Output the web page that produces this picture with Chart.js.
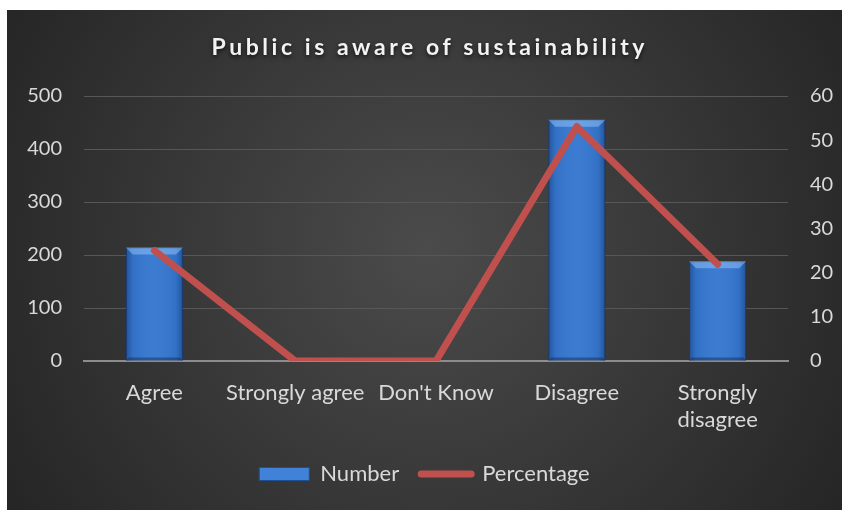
<!DOCTYPE html>
<html>
<head>
<meta charset="utf-8">
<script src="https://cdn.jsdelivr.net/npm/chart.js@4/dist/chart.umd.min.js"></script>
<style>
  html, body { margin: 0; padding: 0; background: #ffffff; }
  #wrap { position: absolute; left: 7px; top: 10px; width: 835px; height: 500px; }
</style>
</head>
<body>
<div id="wrap"><canvas id="chart" width="835" height="500"></canvas></div>
<script>
// survey answers
const categories = ["Agree", "Strongly agree", "Don't Know", "Disagree", ["Strongly", "disagree"]];
const numberValues = [214, 0, 0, 455, 188];
const percentValues = [25.0, 0, 0, 53.1, 21.9];
const leftTicks = [0, 100, 200, 300, 400, 500];
const rightTicks = [0, 10, 20, 30, 40, 50, 60];

const titleText = "Public is aware of sustainability";
const textColor = "#d9d9d9";
const fontFamily = "Lato, 'Open Sans', sans-serif";

// dark radial backdrop
const backdrop = {
  id: "backdrop",
  beforeDraw(chart) {
    const ctx = chart.ctx;
    const g = ctx.createRadialGradient(420, 240, 0, 420, 240, 560);
    g.addColorStop(0, "#4b4b4b");
    g.addColorStop(1, "#202020");
    ctx.save();
    ctx.fillStyle = g;
    ctx.fillRect(0, 0, chart.width, chart.height);
    ctx.restore();
  }
};

// spaced-out bold title with a soft shadow
const spacedTitle = {
  id: "spacedTitle",
  afterDraw(chart) {
    const ctx = chart.ctx;
    ctx.save();
    ctx.font = "bold 23px " + fontFamily;
    const plain = ctx.measureText(titleText).width;
    const spacing = Math.max(0, (433 - plain) / (titleText.length - 1));
    ctx.letterSpacing = spacing + "px";
    ctx.fillStyle = "#f2f2f2";
    ctx.textAlign = "center";
    ctx.textBaseline = "middle";
    ctx.shadowColor = "rgba(0,0,0,0.7)";
    ctx.shadowBlur = 4;
    ctx.shadowOffsetY = 2;
    ctx.fillText(titleText, 421 + spacing / 2, 38);
    ctx.restore();
  }
};

// bevel highlights on top of each bar
const barBevel = {
  id: "barBevel",
  afterDatasetDraw(chart, args) {
    if (args.index !== 0) return;
    const ctx = chart.ctx;
    const b = 7;
    args.meta.data.forEach(bar => {
      const p = bar.getProps(["x", "y", "base", "width"], true);
      const left = p.x - p.width / 2, right = p.x + p.width / 2;
      const top = p.y, bottom = p.base;
      if (bottom - top < 2 * b) return;
      ctx.save();
      // side shading
      const side = ctx.createLinearGradient(left, 0, right, 0);
      side.addColorStop(0, "rgba(10,30,70,0.4)");
      side.addColorStop(0.12, "rgba(10,30,70,0.08)");
      side.addColorStop(0.5, "rgba(255,255,255,0.03)");
      side.addColorStop(0.88, "rgba(10,30,70,0.08)");
      side.addColorStop(1, "rgba(10,30,70,0.4)");
      ctx.fillStyle = side;
      ctx.fillRect(left, top, right - left, bottom - top);
      // top bevel
      ctx.beginPath();
      ctx.moveTo(left, top);
      ctx.lineTo(right, top);
      ctx.lineTo(right - b, top + b);
      ctx.lineTo(left + b, top + b);
      ctx.closePath();
      ctx.fillStyle = "rgba(150,200,255,0.5)";
      ctx.fill();
      // bottom bevel
      ctx.beginPath();
      ctx.moveTo(left, bottom);
      ctx.lineTo(right, bottom);
      ctx.lineTo(right - 3, bottom - 3);
      ctx.lineTo(left + 3, bottom - 3);
      ctx.closePath();
      ctx.fillStyle = "rgba(10,30,70,0.4)";
      ctx.fill();
      ctx.restore();
    });
  }
};

new Chart(document.getElementById("chart"), {
  type: "bar",
  data: {
    labels: categories,
    datasets: [
      {
        label: "Number",
        data: numberValues,
        yAxisID: "y",
        backgroundColor: "#3577cf",
        borderColor: "#1f4f92",
        borderWidth: 1,
        barPercentage: 0.405,
        categoryPercentage: 1,
        order: 1
      },
      {
        type: "line",
        label: "Percentage",
        data: percentValues,
        yAxisID: "y1",
        borderColor: "#c0504d",
        borderWidth: 7,
        borderCapStyle: "round",
        borderJoinStyle: "round",
        pointRadius: 0,
        tension: 0,
        fill: false,
        order: 0
      }
    ]
  },
  options: {
    responsive: false,
    animation: false,
    layout: { padding: { top: 86, left: 0, right: 0, bottom: 15 } },
    plugins: {
      title: { display: false },
      tooltip: { enabled: false },
      legend: {
        position: "bottom",
        labels: {
          color: textColor,
          font: { family: fontFamily, size: 22 },
          usePointStyle: true,
          pointStyleWidth: 50,
          boxHeight: 13,
          padding: 22,
          generateLabels: () => [
            { text: "Number", fillStyle: "#3f82d8", strokeStyle: "#1f4f92", lineWidth: 1,
              pointStyle: "rect", fontColor: textColor, datasetIndex: 0 },
            { text: "Percentage", fillStyle: "#c0504d", strokeStyle: "#c0504d", lineWidth: 7,
              lineCap: "round", pointStyle: "line", fontColor: textColor, datasetIndex: 1 }
          ]
        }
      }
    },
    scales: {
      x: {
        afterFit: s => { s.height = 80; },
        grid: { display: false },
        border: { display: true, color: "#8c8c8c", width: 2 },
        ticks: { color: textColor, font: { family: fontFamily, size: 22 }, padding: 11, maxRotation: 0, autoSkip: false }
      },
      y: {
        position: "left",
        min: leftTicks[0],
        max: leftTicks[leftTicks.length - 1],
        afterFit: s => { s.width = 77; },
        afterBuildTicks: s => { s.ticks = leftTicks.map(v => ({ value: v })); },
        border: { display: false },
        grid: {
          drawTicks: false,
          color: ctx => ctx.tick && ctx.tick.value === 0 ? "rgba(0,0,0,0)" : "#575757",
          lineWidth: 1
        },
        ticks: { color: textColor, font: { family: fontFamily, size: 20 }, padding: 22 }
      },
      y1: {
        position: "right",
        min: rightTicks[0],
        max: rightTicks[rightTicks.length - 1],
        afterFit: s => { s.width = 54; },
        afterBuildTicks: s => { s.ticks = rightTicks.map(v => ({ value: v })); },
        border: { display: false },
        grid: { display: false, drawTicks: false },
        ticks: { color: textColor, font: { family: fontFamily, size: 20 }, padding: 22 }
      }
    }
  },
  plugins: [backdrop, spacedTitle, barBevel]
});
</script>
</body>
</html>
